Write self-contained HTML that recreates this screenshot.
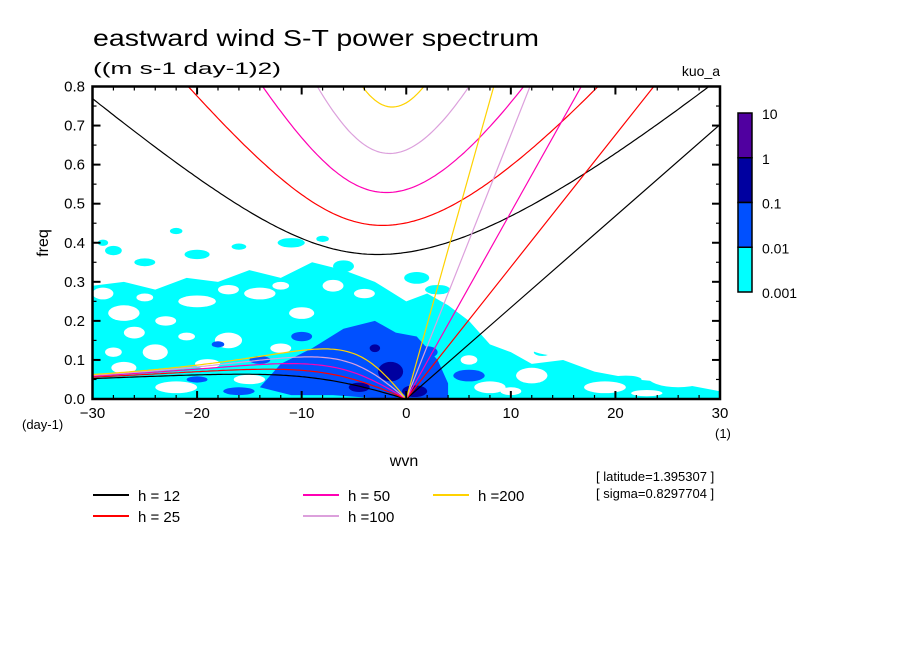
<!DOCTYPE html>
<html><head><meta charset="utf-8"><style>
html,body{margin:0;padding:0;background:#fff;}
svg{display:block;font-family:"Liberation Sans",sans-serif;}
</style></head><body>
<svg id="chart" width="904" height="654" viewBox="0 0 904 654" xmlns="http://www.w3.org/2000/svg">
<rect width="904" height="654" fill="#fff"/>
<text x="93" y="46" font-size="23" textLength="446" lengthAdjust="spacingAndGlyphs">eastward wind S-T power spectrum</text>
<text x="93" y="74" font-size="17" textLength="188" lengthAdjust="spacingAndGlyphs">((m s-1 day-1)2)</text>
<text x="720" y="76" font-size="14" text-anchor="end">kuo_a</text>
<g id="field"></g>
<g id="curves"></g>
<g id="axes"></g>
<text x="404" y="466" font-size="16" text-anchor="middle">wvn</text>
<text x="48" y="243" font-size="16" text-anchor="middle" transform="rotate(-90 48 243)">freq</text>
<text x="22" y="429" font-size="13">(day-1)</text>
<text x="715" y="438" font-size="13">(1)</text>
<g id="colorbar"></g>
<g id="legend"></g>
<text x="596" y="481" font-size="13">[ latitude=1.395307 ]</text>
<text x="596" y="498" font-size="13">[ sigma=0.8297704 ]</text>
</svg>
<script>
// ---- data ----
const depths = [12, 25, 50, 100, 200];
const depthColors = ['#000000', '#ff0000', '#ff00b4', '#dca0dc', '#ffd200'];
const xTicks = [-30, -20, -10, 0, 10, 20, 30];
const yTicks = [0.0, 0.1, 0.2, 0.3, 0.4, 0.5, 0.6, 0.7, 0.8];
const levelLabels = ['10', '1', '0.1', '0.01', '0.001'];
const levelColors = ['#5000a0', '#0000a0', '#0050ff', '#00ffff'];
// power field approximated: polygons in (wavenumber, freq)
const cyanRegion = [[-30,0],[-30,0.29],[-27,0.3],[-24,0.28],[-21,0.31],[-18,0.3],[-15,0.33],[-12,0.31],[-9,0.35],[-6,0.33],[-3,0.3],[0,0.25],[2,0.27],[4,0.24],[6,0.2],[8,0.14],[10,0.12],[12,0.09],[15,0.1],[18,0.07],[22,0.05],[26,0.04],[30,0.02],[30,0]];
const cyanPatches = [[-28,0.38,0.8,0.012],[-25,0.35,1.0,0.01],[-20,0.37,1.2,0.012],[-11,0.4,1.3,0.012],[-6,0.34,1.0,0.015],[1,0.31,1.2,0.015],[3,0.28,1.2,0.012],[13,0.12,0.8,0.01],[16,0.07,1.2,0.01],[21,0.05,1.5,0.01],[25,0.02,1,0.008],[-22,0.43,0.6,0.008],[-16,0.39,0.7,0.008],[-29,0.4,0.5,0.008],[-8,0.41,0.6,0.008]];
const whiteHoles = [[-27,0.22,1.5,0.02],[-24,0.12,1.2,0.02],[-20,0.25,1.8,0.015],[-17,0.15,1.3,0.02],[-14,0.27,1.5,0.015],[-22,0.03,2,0.015],[-10,0.22,1.2,0.015],[-27,0.08,1.2,0.015],[-15,0.05,1.5,0.012],[8,0.03,1.5,0.015],[12,0.06,1.5,0.02],[19,0.03,2,0.015],[26,0.06,3,0.03],[15,0.15,4,0.04],[-7,0.29,1,0.015],[-26,0.17,1,0.015],[-29,0.27,1,0.015],[-23,0.2,1,0.012],[-19,0.09,1.2,0.012],[-12,0.13,1,0.012],[-21,0.16,0.8,0.01],[-25,0.26,0.8,0.01],[-17,0.28,1,0.012],[-4,0.27,1,0.012],[6,0.1,0.8,0.012],[10,0.02,1,0.01],[23,0.015,1.5,0.008],[-12,0.29,0.8,0.01],[-28,0.12,0.8,0.012]];
const blueRegion = [[-14,0.03],[-12,0.09],[-9,0.13],[-6,0.18],[-3,0.2],[-1,0.17],[1,0.16],[3,0.1],[4,0.04],[4,0],[-2,0],[-7,0.01],[-11,0.01]];
const bluePatches = [[-16,0.02,1.5,0.01],[-20,0.05,1,0.008],[6,0.06,1.5,0.015],[-10,0.16,1,0.012],[2,0.12,1,0.015],[-14,0.1,1,0.01],[-18,0.14,0.6,0.008]];
const darkPatches = [[-1.5,0.07,1.2,0.025],[0.8,0.02,1.2,0.015],[-4.5,0.03,1,0.012],[-3,0.13,0.5,0.01]];

// ---- scales ----
const X0=92.5, X1=720, Y0=399, Y1=86.5;
const xs = s => X0 + (s+30)/60*(X1-X0);
const ys = f => Y0 - f/0.8*(Y0-Y1);
const NS='http://www.w3.org/2000/svg';
function mk(parent, tag, attrs){const e=document.createElementNS(NS,tag);for(const k in attrs)e.setAttribute(k,attrs[k]);parent.appendChild(e);return e;}

const defs = mk(document.getElementById('chart'),'defs',{});
const cp = mk(defs,'clipPath',{id:'plotclip'});
mk(cp,'rect',{x:X0,y:Y1,width:X1-X0,height:Y0-Y1});

const field=document.getElementById('field');
field.setAttribute('clip-path','url(#plotclip)');
function poly(arr,fill,name){const p=mk(field,'polygon',{points:arr.map(q=>xs(q[0])+','+ys(q[1])).join(' '),fill:fill});

}
function blobs(arr,fill,name){arr.forEach(b=>{const e=mk(field,'ellipse',{cx:xs(b[0]),cy:ys(b[1]),rx:b[2]*(X1-X0)/60,ry:b[3]*(Y0-Y1)/0.8,fill:fill});

});}
poly(cyanRegion,levelColors[3],'power-level-0001');
blobs(cyanPatches,levelColors[3],'power-patch-0001');
blobs(whiteHoles,'#ffffff','power-gap');
poly(blueRegion,levelColors[2],'power-level-001');
blobs(bluePatches,levelColors[2],'power-patch-001');
blobs(darkPatches,levelColors[1],'power-level-01');

const g=9.81, beta=2.289e-11, a=6.371e6;
function roots(s,h){const c=Math.sqrt(g*h),k=s/a;const p=-c*c*(k*k+3*beta/c),q=-beta*c*c*k;
 const m=2*Math.sqrt(-p/3);const th=Math.acos(Math.max(-1,Math.min(1,(3*q/(2*p))*Math.sqrt(-3/p))))/3;
 const r=[0,1,2].map(j=>m*Math.cos(th-2*Math.PI*j/3));return r.map(w=>w*86400/(2*Math.PI)).sort((u,v)=>v-u);}
const curves=document.getElementById('curves');
curves.setAttribute('clip-path','url(#plotclip)');
depths.forEach((h,i)=>{
 const c=Math.sqrt(g*h);
 let ig='',ro='';
 for(let s=-30;s<=30.001;s+=0.25){const r=roots(s,h);ig+=(ig?'L':'M')+xs(s).toFixed(1)+','+ys(r[0]).toFixed(1);
  if(s<=0)ro+=(ro?'L':'M')+xs(s).toFixed(1)+','+ys(Math.max(0,r[1])).toFixed(1);}
 const p1=mk(curves,'path',{d:ig,fill:'none',stroke:depthColors[i],'stroke-width':1.2});
 
 
 const p2=mk(curves,'path',{d:ro,fill:'none',stroke:depthColors[i],'stroke-width':1.2});
 
 
 const kf=s=>c*(s/a)*86400/(2*Math.PI);
 const p3=mk(curves,'line',{x1:xs(0),y1:ys(0),x2:xs(30),y2:ys(kf(30)),stroke:depthColors[i],'stroke-width':1.2});
 
 
});

const ax=document.getElementById('axes');
const fr=mk(ax,'rect',{x:X0,y:Y1,width:X1-X0,height:Y0-Y1,fill:'none',stroke:'#000','stroke-width':2.5});


for(let s=-30;s<=30;s+=2){const maj=s%10===0;const L=maj?8:4;
 mk(ax,'line',{x1:xs(s),y1:Y0,x2:xs(s),y2:Y0-L,stroke:'#000','stroke-width':maj?2:1.2});
 mk(ax,'line',{x1:xs(s),y1:Y1,x2:xs(s),y2:Y1+L,stroke:'#000','stroke-width':maj?2:1.2});}
for(let j=0;j<=16;j++){const f=j*0.05;const maj=j%2===0;const L=maj?8:4;
 mk(ax,'line',{x1:X0,y1:ys(f),x2:X0+L,y2:ys(f),stroke:'#000','stroke-width':maj?2:1.2});
 mk(ax,'line',{x1:X1,y1:ys(f),x2:X1-L,y2:ys(f),stroke:'#000','stroke-width':maj?2:1.2});}
xTicks.forEach(v=>{const t=mk(ax,'text',{x:xs(v),y:418,'font-size':15,'text-anchor':'middle'});t.textContent=(v<0?'\u2212':'')+Math.abs(v);
 
 });
yTicks.forEach(v=>{const t=mk(ax,'text',{x:85,y:ys(v)+5,'font-size':15,'text-anchor':'end'});t.textContent=v.toFixed(1);
 
 });

const cb=document.getElementById('colorbar');
const cbTop=113, cbStep=44.75;
levelColors.forEach((col,i)=>{const r=mk(cb,'rect',{x:738,y:cbTop+i*cbStep,width:14,height:cbStep,fill:col,stroke:'#000','stroke-width':1.5});
 
 });
levelLabels.forEach((l,i)=>{const t=mk(cb,'text',{x:762,y:cbTop+i*cbStep+6,'font-size':14});t.textContent=l;
 
 });

const lg=document.getElementById('legend');
const legPos=[[93,495],[93,516],[303,495],[303,516],[433,495]];
depths.forEach((h,i)=>{const [x,y]=legPos[i];
 const en=mk(lg,'g',{});
 
 
 mk(en,'line',{x1:x,y1:y,x2:x+36,y2:y,stroke:depthColors[i],'stroke-width':2});
 const t=mk(en,'text',{x:x+45,y:y+6,'font-size':15});t.textContent=h>=100?'h ='+h:'h = '+h;});
</script>
</body></html>
